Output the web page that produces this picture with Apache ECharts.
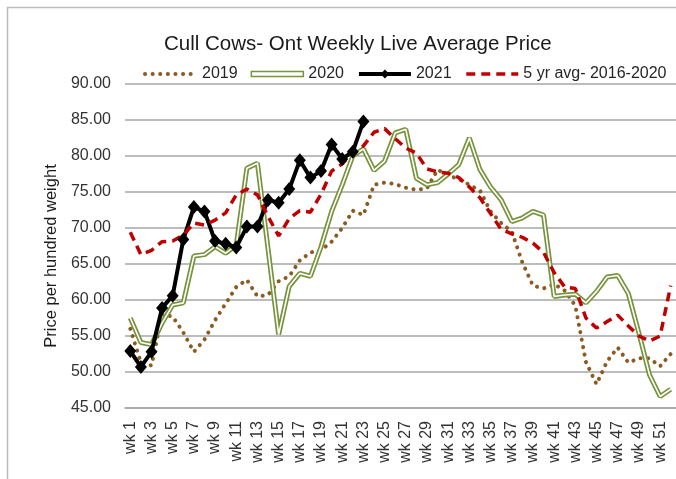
<!DOCTYPE html>
<html>
<head>
<meta charset="utf-8">
<script src="https://cdn.jsdelivr.net/npm/echarts@6/dist/echarts.min.js"></script>
<style>
  html, body { margin: 0; padding: 0; background: #fff; }
  #chart { width: 676px; height: 479px; }
</style>
</head>
<body>
<div id="chart"></div>
<script>
// weekly categories
var weeks = [];
for (var i = 1; i <= 52; i++) weeks.push('wk ' + i);

// values ($ per hundred weight)
var y2019 = [56.0, 51.3, 50.9, 58.0, 57.7, 55.5, 52.8, 54.5, 57.2, 59.5, 61.8, 62.8, 60.5, 60.7, 62.6, 63.3,
  65.5, 66.6, 66.9, 68.1, 70.0, 72.4, 71.8, 76.0, 76.3, 76.1, 75.6, 75.3, 75.5, 78.1, 77.3, 76.8, 76.0, 75.2,
  72.3, 70.7, 69.5, 65.2, 62.0, 61.6, 62.2, 61.3, 59.2, 51.4, 48.3, 51.5, 53.4, 51.3, 51.9, 51.9, 50.8, 52.5];
var y2020 = [57.5, 54.1, 53.8, 56.8, 59.3, 59.6, 66.1, 66.3, 67.4, 66.5, 67.6, 78.3, 79.0, 67.1, 55.2, 61.9,
  63.7, 63.3, 67.4, 72.3, 76.0, 80.0, 81.0, 78.0, 79.3, 83.2, 83.7, 76.9, 76.0, 76.3, 77.5, 78.8, 82.5, 78.1,
  75.7, 73.9, 70.9, 71.4, 72.3, 71.8, 60.5, 60.7, 60.8, 59.6, 61.2, 63.2, 63.4, 60.9, 55.4, 49.6, 46.6, 47.6];
var y2021 = [52.9, 50.7, 52.8, 58.9, 60.6, 68.4, 72.9, 72.3, 68.2, 67.8, 67.3, 70.2, 70.2, 73.9, 73.5, 75.4,
  79.4, 77.0, 77.9, 81.6, 79.6, 80.6, 84.8];
var avg5 = [69.4, 66.3, 66.9, 68.1, 68.2, 69.0, 70.7, 70.4, 71.1, 72.1, 74.6, 75.4, 74.6, 71.6, 68.9, 71.3,
  72.4, 72.2, 74.7, 77.9, 78.9, 80.6, 81.4, 83.3, 83.8, 82.4, 81.1, 80.4, 78.2, 77.8, 77.6, 77.0, 75.7, 74.2,
  72.0, 69.8, 69.2, 68.7, 67.9, 66.6, 63.8, 61.8, 61.6, 57.5, 56.1, 57.0, 57.9, 56.4, 55.0, 54.3, 55.0, 62.0];

var font = 'Liberation Sans';
var green = '#77933c';

var chart = echarts.init(document.getElementById('chart'), null, { renderer: 'canvas' });
chart.setOption({
  animation: false,
  backgroundColor: '#fff',
  textStyle: { fontFamily: font },
  title: {
    text: 'Cull Cows- Ont Weekly Live Average Price',
    left: 159, top: 29,
    textStyle: { fontSize: 20.5, fontWeight: 'normal', color: '#1a1a1a', fontFamily: font }
  },
  legend: {
    left: 143, top: 66, width: 540, padding: 0,
    itemWidth: 52, itemHeight: 11, itemGap: 13,
    lineStyle: { width: 'inherit' },
    textStyle: { fontSize: 16, color: '#262626', fontFamily: font },
    data: [
      { name: '2019', itemStyle: { opacity: 0 } },
      { name: '2020', icon: 'path://M0,0H50V5H0Z', itemStyle: { color: '#fff', borderColor: green, borderWidth: 1.5 } },
      { name: '2021' },
      { name: '5 yr avg- 2016-2020', itemStyle: { opacity: 0 } }
    ]
  },
  graphic: [{
    type: 'rect', left: 5, top: 5, silent: true,
    shape: { width: 720, height: 520 },
    style: { fill: 'none', stroke: '#bcbcbc', lineWidth: 1.5 }
  }],
  grid: { left: 125, top: 84, width: 558, height: 324 },
  xAxis: {
    type: 'category', data: weeks, boundaryGap: true,
    axisLine: { show: true, lineStyle: { color: '#a6a6a6', width: 1.5 } },
    axisTick: { show: false },
    axisLabel: { interval: 1, rotate: 90, fontSize: 16, color: '#333', margin: 13 }
  },
  yAxis: {
    type: 'value', min: 45, max: 90, interval: 5,
    name: 'Price per hundred weight', nameLocation: 'middle', nameRotate: 90, nameGap: 64,
    nameTextStyle: { fontSize: 16.5, color: '#1a1a1a', padding: [0, 20, 0, 0] },
    axisLine: { show: false }, axisTick: { show: false },
    axisLabel: { fontSize: 16, color: '#333', margin: 14, formatter: function (v) { return v.toFixed(2); } },
    splitLine: { lineStyle: { color: '#a6a6a6', width: 1.5 } }
  },
  series: [
    {
      name: '2019', type: 'line', data: y2019, symbol: 'none',
      lineStyle: { color: '#8c5b22', width: 4, type: [0.1, 7.5], cap: 'round' },
      itemStyle: { color: '#8c5b22' }
    },
    {
      name: '2020', type: 'line', data: y2020, symbol: 'none',
      lineStyle: { color: green, width: 5 },
      itemStyle: { color: green }
    },
    {
      name: '2020 inner', type: 'line', data: y2020, symbol: 'none', silent: true,
      lineStyle: { color: '#fff', width: 1.6 }
    },
    {
      name: '2021', type: 'line', data: y2021, symbol: 'diamond', symbolSize: [12, 14],
      showSymbol: true, showAllSymbol: true,
      lineStyle: { color: '#000', width: 4 },
      itemStyle: { color: '#000' }
    },
    {
      name: '5 yr avg- 2016-2020', type: 'line', data: avg5, symbol: 'none',
      lineStyle: { color: '#c00000', width: 3.5, type: [9, 6] },
      itemStyle: { color: '#c00000' }
    }
  ]
});
</script>
</body>
</html>
